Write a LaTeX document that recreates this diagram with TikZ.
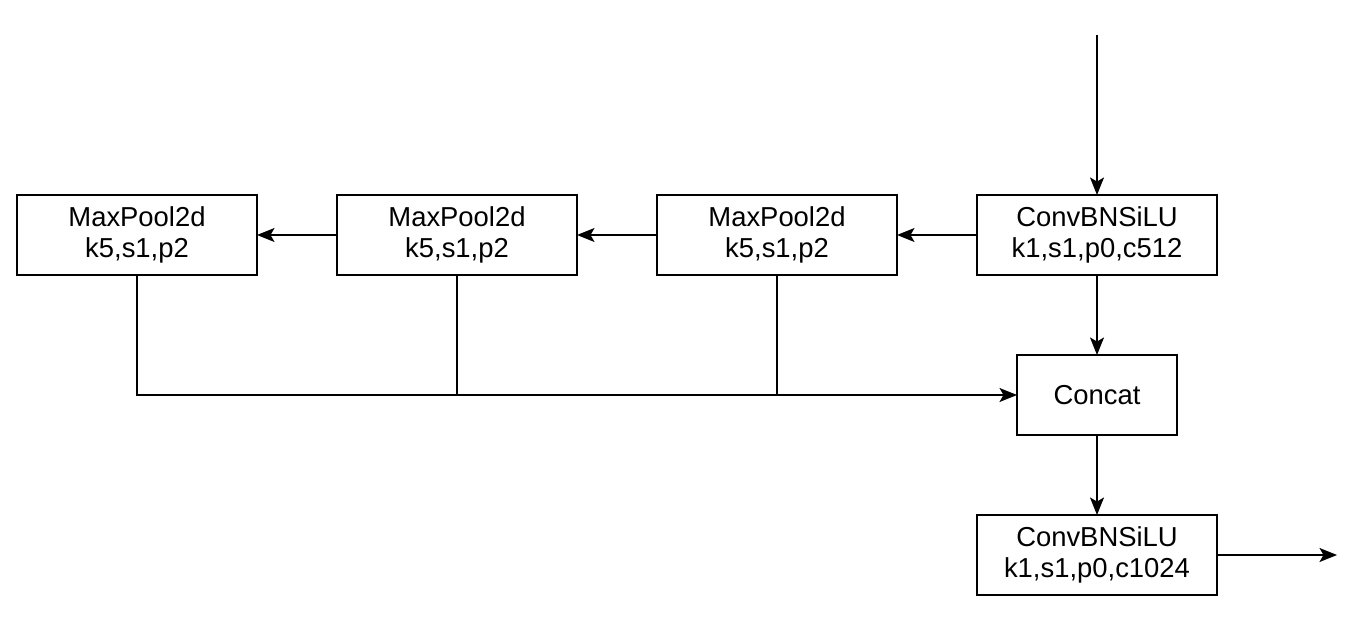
\documentclass[tikz,border=0pt]{standalone}
\usepackage{fontspec}
\setmainfont{Liberation Sans}
\usetikzlibrary{positioning,arrows.meta}

\begin{document}
\begin{tikzpicture}[
    line width=0.85pt,
    block/.style={draw, rectangle, minimum width=4.8cm, minimum height=1.6cm,
      align=center, inner sep=0pt, outer sep=0pt, font=\fontsize{15.6}{18}\selectfont},
    arr/.style={-{Stealth[length=0.35cm,width=0.28cm,inset=0.08cm]}}
  ]
  \useasboundingbox (0,0) rectangle (27.1,-12.48);

  % blocks
  \node [block](conva) at (21.94,-4.70) {ConvBNSiLU\\k1,s1,p0,c512};
  \node [block, left=1.6cm of conva](poolc) {MaxPool2d\\k5,s1,p2};
  \node [block, left=1.6cm of poolc](poolb) {MaxPool2d\\k5,s1,p2};
  \node [block, left=1.6cm of poolb](poola) {MaxPool2d\\k5,s1,p2};
  \node [block, minimum width=3.2cm, below=1.6cm of conva](cat) {Concat};
  \node [block, below=1.6cm of cat](convb) {ConvBNSiLU\\k1,s1,p0,c1024};

  \coordinate [above=3.2cm of conva] (in);
  \coordinate [right=2.4cm of convb] (out);

  % main path
  \draw [arr] (in) -- (conva);
  \draw [arr] (conva) -- (poolc);
  \draw [arr] (poolc) -- (poolb);
  \draw [arr] (poolb) -- (poola);
  \draw [arr] (conva) -- (cat);
  \draw [arr] (cat) -- (convb);
  \draw [arr] (convb) -- (out);

  % pooled branches
  \draw [arr] (poola.south) |- (cat.west);
  \draw (poolb.south) -- (poolb.south |- cat.west);
  \draw (poolc.south) -- (poolc.south |- cat.west);
\end{tikzpicture}
\end{document}
